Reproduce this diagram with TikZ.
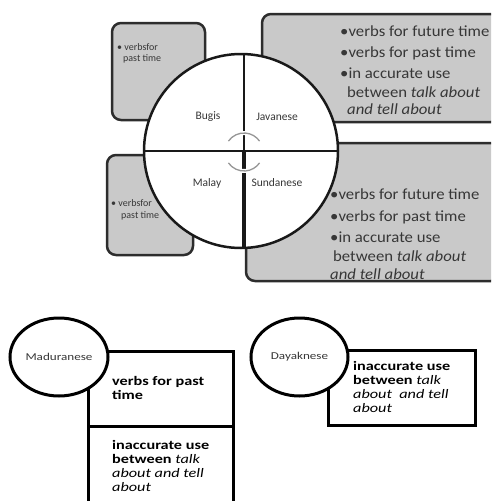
\documentclass[tikz,border=0pt]{standalone}
\usepackage{fontspec}
\usepackage{graphicx}
\setmainfont{Carlito}
\newfontfamily\medfont[FakeStretch=1.08]{Carlito}
\newcommand\widen[1]{\scalebox{1.25}[1]{#1}}
\usetikzlibrary{shapes.geometric}
\definecolor{boxgray}{RGB}{201,201,201}
\definecolor{edgegray}{RGB}{45,45,45}
\definecolor{txtgray}{RGB}{55,55,55}
\definecolor{arcgray}{RGB}{150,150,150}
\begin{document}
\begin{tikzpicture}[x=1pt,y=-1pt,
 graybox/.style={draw=edgegray, line width=2.5pt, fill=boxgray, rounded corners=9pt, inner sep=0pt},
 bigtxt/.style={anchor=base west, inner sep=0pt, text=txtgray, font=\medfont\fontsize{15.5}{18}\selectfont},
 smalltxt/.style={anchor=base west, inner sep=0pt, text=txtgray, font=\fontsize{10}{12}\selectfont},
 langtxt/.style={inner sep=0pt, text=txtgray, font=\fontsize{11.5}{13}\selectfont},
 blackbox/.style={draw=black, line width=3pt, fill=white, inner sep=0pt},
 oval/.style={ellipse, draw=black, line width=3pt, fill=white, inner sep=0pt, font=\fontsize{10.5}{12}\selectfont, text=txtgray},
 boldtxt/.style={anchor=base west, inner sep=0pt, font=\bfseries\fontsize{13}{14}\selectfont},
 halo/.style={white, line width=4pt},
 arcline/.style={arcgray, line width=1.3pt}
]
\clip (0,0) rectangle (491,501);
\fill[white] (0,0) rectangle (491,501);
% gray boxes
\node[graybox, minimum width=93pt, minimum height=97pt] (tl) at (158.5,71.5) {};
\node[graybox, minimum width=86pt, minimum height=100pt] (bl) at (150,205) {};
\node[graybox, minimum width=238pt, minimum height=108pt] (tr) at (381,68) {};
\node[graybox, minimum width=254pt, minimum height=138pt] (br) at (373,212) {};
% circle
\node[circle, draw=black!90, line width=2.5pt, fill=white, minimum size=194pt, inner sep=0pt] (c) at (241,151) {};
\coordinate (vt) at (244,54);
\coordinate (vm) at (244,151);
\coordinate (vb) at (244,248);
\coordinate (ac) at (244,152);
\draw[line width=2.5pt, black!90] (c.west) -- (c.east);
\draw[line width=2pt, black!90] (vt) -- (vm);
\draw[line width=4.5pt, black!90] (vm) -- (vb);
\draw[halo] ([shift={(145:19pt)}]ac) arc[start angle=145, end angle=35, radius=19pt];
\draw[arcline] ([shift={(145:19pt)}]ac) arc[start angle=145, end angle=35, radius=19pt];
\draw[halo] ([shift={(-145:19pt)}]ac) arc[start angle=-145, end angle=-35, radius=19pt];
\draw[arcline] ([shift={(-145:19pt)}]ac) arc[start angle=-145, end angle=-35, radius=19pt];
% language labels
\node[langtxt] (bugis) at (208,117) {Bugis};
\node[langtxt] (java) at (277,117) {Javanese};
\node[langtxt] (malay) at (207,183) {Malay};
\node[langtxt] (sunda) at (277,183) {Sundanese};
% small box texts
\node[smalltxt] (tl1) at (117,50) {\textbullet\ verbsfor};
\node[smalltxt] (tl2) at (123,61) {past time};
\node[smalltxt] (bl1) at (111,206) {\textbullet\ verbsfor};
\node[smalltxt] (bl2) at (121,218) {past time};
% top right text
\node[bigtxt] (tr1) at (340,36) {\textbullet verbs for future time};
\node[bigtxt] (tr2) at (340,57) {\textbullet verbs for past time};
\node[bigtxt] (tr3) at (340,78) {\textbullet in accurate use};
\node[bigtxt] (tr4) at (347,97) {between \textit{talk about}};
\node[bigtxt] (tr5) at (347,114) {\textit{and tell about}};
% bottom right text
\node[bigtxt] (br1) at (330,199) {\textbullet verbs for future time};
\node[bigtxt] (br2) at (330,221) {\textbullet verbs for past time};
\node[bigtxt] (br3) at (330,242) {\textbullet in accurate use};
\node[bigtxt] (br4) at (333,261) {between \textit{talk about}};
\node[bigtxt] (br5) at (330,279) {\textit{and tell about}};
% bottom part
\node[blackbox, minimum width=145pt, minimum height=170pt, anchor=north west] (mb) at (87,350) {};
\coordinate (dl) at (87,426);
\coordinate (dr) at (232,426);
\draw[line width=3pt] (dl) -- (dr);
\node[blackbox, minimum width=147pt, minimum height=75pt] (db) at (401.5,387.5) {};
\node[oval, minimum width=98pt, minimum height=78pt] (me) at (59,357) {\widen{Maduranese}};
\node[oval, minimum width=97pt, minimum height=78pt] (de) at (299.5,357) {\widen{Dayaknese}};
\node[boldtxt] (m1) at (112,385) {\widen{verbs for past}};
\node[boldtxt] (m2) at (112,399) {\widen{time}};
\node[boldtxt] (m3) at (112,449) {\widen{inaccurate use}};
\node[boldtxt] (m4) at (112,463) {\widen{between \textit{\mdseries talk}}};
\node[boldtxt] (m5) at (112,477) {\widen{\textit{\mdseries about and tell}}};
\node[boldtxt] (m6) at (112,491) {\widen{\textit{\mdseries about}}};
\node[boldtxt] (d1) at (353,370) {\widen{inaccurate use}};
\node[boldtxt] (d2) at (353,384) {\widen{between \textit{\mdseries talk}}};
\node[boldtxt] (d3) at (353,398) {\widen{\textit{\mdseries about\ \ and tell}}};
\node[boldtxt] (d4) at (353,412) {\widen{\textit{\mdseries about}}};
\end{tikzpicture}
\end{document}
